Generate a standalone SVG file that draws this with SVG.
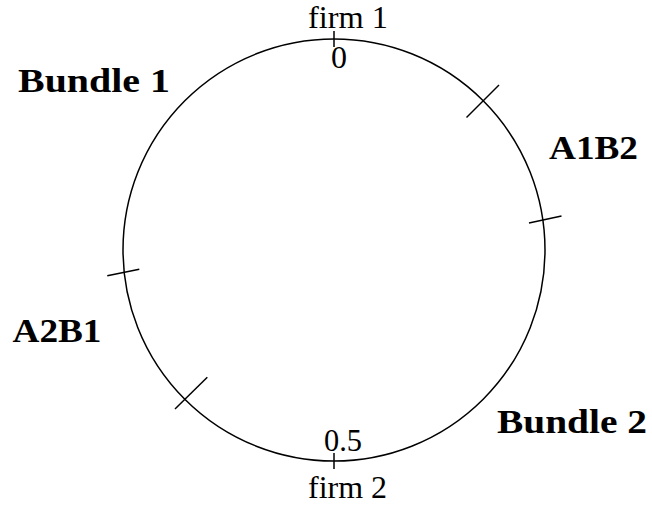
<svg xmlns="http://www.w3.org/2000/svg" width="652" height="506" viewBox="0 0 652 506">
<style>
.l{fill:none;stroke:#000;stroke-width:1.5}
.t{font-family:"Liberation Serif","Times New Roman",serif;font-size:31px;fill:#000}
.b{font-family:"Liberation Serif","Times New Roman",serif;font-size:34px;font-weight:bold;fill:#000}
</style>
<rect width="652" height="506" fill="#fff"/>
<g id="circle"><circle class="l" cx="334" cy="250" r="211"/></g>
<g id="ticks">
<line class="l" x1="334" y1="31" x2="334" y2="47"/>
<line class="l" x1="334" y1="453" x2="334" y2="469"/>
<line class="l" x1="466.5" y1="117.5" x2="499" y2="85"/>
<line class="l" x1="529" y1="223" x2="561.5" y2="216"/>
<line class="l" x1="107.3" y1="275.7" x2="139.3" y2="269.3"/>
<line class="l" x1="175" y1="409" x2="207.3" y2="377.3"/>
</g>
<g id="labels">
<text class="t" x="308" y="28" textLength="80" lengthAdjust="spacingAndGlyphs">firm 1</text>
<text class="t" x="331" y="68" textLength="16" lengthAdjust="spacingAndGlyphs">0</text>
<text class="t" x="324" y="450.5" textLength="38" lengthAdjust="spacingAndGlyphs">0.5</text>
<text class="t" x="308" y="498" textLength="79" lengthAdjust="spacingAndGlyphs">firm 2</text>
<text class="b" x="18" y="92" textLength="152" lengthAdjust="spacingAndGlyphs">Bundle 1</text>
<text class="b" x="549" y="159" textLength="89" lengthAdjust="spacingAndGlyphs">A1B2</text>
<text class="b" x="12.5" y="341.5" textLength="89" lengthAdjust="spacingAndGlyphs">A2B1</text>
<text class="b" x="497" y="432.5" textLength="150" lengthAdjust="spacingAndGlyphs">Bundle 2</text>
</g>
</svg>
